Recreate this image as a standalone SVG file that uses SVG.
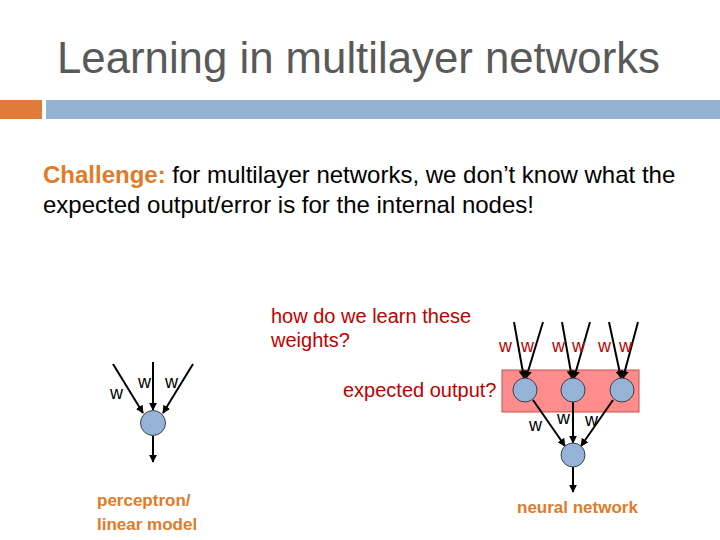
<svg xmlns="http://www.w3.org/2000/svg" width="720" height="540" viewBox="0 0 720 540">
<defs>
<style>
text{font-family:"Liberation Sans",Arial,sans-serif}
.title{font-size:44px;fill:#595959}
.body{font-size:24px;fill:#000}
.red{font-size:20px;fill:#C00000}
.orange{font-size:17px;fill:#E07B29;font-weight:bold}
.wr{font-size:18px;fill:#C00000}
.wb{font-size:18px;fill:#000}
.node{fill:#95B3D7;stroke:#404040;stroke-width:1}
.edge{stroke:#000;stroke-width:2;fill:none;marker-end:url(#ah)}
</style>
<marker id="ah" viewBox="0 0 10 10" refX="9" refY="5" markerWidth="4" markerHeight="4" orient="auto">
<path d="M0,0 L10,5 L0,10 z" fill="#000"/>
</marker>
</defs>
<rect x="0" y="100" width="42" height="19" fill="#E07B39"/>
<rect x="46" y="100" width="674" height="19" fill="#95B3D0"/>
<text class="title" x="57" y="73" textLength="603" lengthAdjust="spacingAndGlyphs">Learning in multilayer networks</text>
<text class="body" x="43" y="183"><tspan fill="#E07B29" font-weight="bold">Challenge:</tspan> for multilayer networks, we don’t know what the</text>
<text class="body" x="43" y="213">expected output/error is for the internal nodes!</text>
<text class="red" x="271" y="323">how do we learn these</text>
<text class="red" x="271" y="347">weights?</text>
<text class="red" x="343" y="397">expected output?</text>
<rect x="502" y="370" width="137" height="42" fill="#FF8C8C" stroke="#C0504D" stroke-width="1"/>
<g id="connectors">
<line class="edge" x1="113" y1="364" x2="143" y2="413"/>
<line class="edge" x1="153" y1="362" x2="153" y2="410"/>
<line class="edge" x1="193" y1="364" x2="163" y2="413"/>
<line class="edge" x1="153" y1="436" x2="153" y2="462"/>
<line class="edge" x1="514" y1="322" x2="524" y2="378"/>
<line class="edge" x1="543" y1="322" x2="526" y2="378"/>
<line class="edge" x1="562" y1="322" x2="572" y2="378"/>
<line class="edge" x1="590" y1="322" x2="574" y2="378"/>
<line class="edge" x1="609" y1="322" x2="621" y2="378"/>
<line class="edge" x1="638" y1="322" x2="623" y2="378"/>
<line class="edge" x1="533" y1="400" x2="565" y2="446"/>
<line class="edge" x1="573" y1="402" x2="573" y2="443"/>
<line class="edge" x1="613" y1="400" x2="581" y2="446"/>
<line class="edge" x1="573" y1="467" x2="573" y2="492"/>
</g>
<text class="wb" x="110" y="399">w</text>
<text class="wb" x="138" y="388">w</text>
<text class="wb" x="165" y="388">w</text>
<text class="wr" x="499" y="352">w</text>
<text class="wr" x="521" y="352">w</text>
<text class="wr" x="552" y="352">w</text>
<text class="wr" x="572" y="352">w</text>
<text class="wr" x="598" y="352">w</text>
<text class="wr" x="619" y="352">w</text>
<text class="wb" x="529" y="431">w</text>
<text class="wb" x="557" y="424">w</text>
<text class="wb" x="585" y="426">w</text>
<g id="perceptron"><circle class="node" cx="153" cy="423" r="12.5"/></g>
<g id="h1"><circle class="node" cx="525" cy="390" r="12"/></g>
<g id="h2"><circle class="node" cx="573" cy="390" r="12"/></g>
<g id="h3"><circle class="node" cx="622" cy="390" r="12"/></g>
<g id="out"><circle class="node" cx="573" cy="455" r="12"/></g>
<text class="orange" x="97" y="506">perceptron/</text>
<text class="orange" x="97" y="530">linear model</text>
<text class="orange" x="517" y="513">neural network</text>
</svg>
